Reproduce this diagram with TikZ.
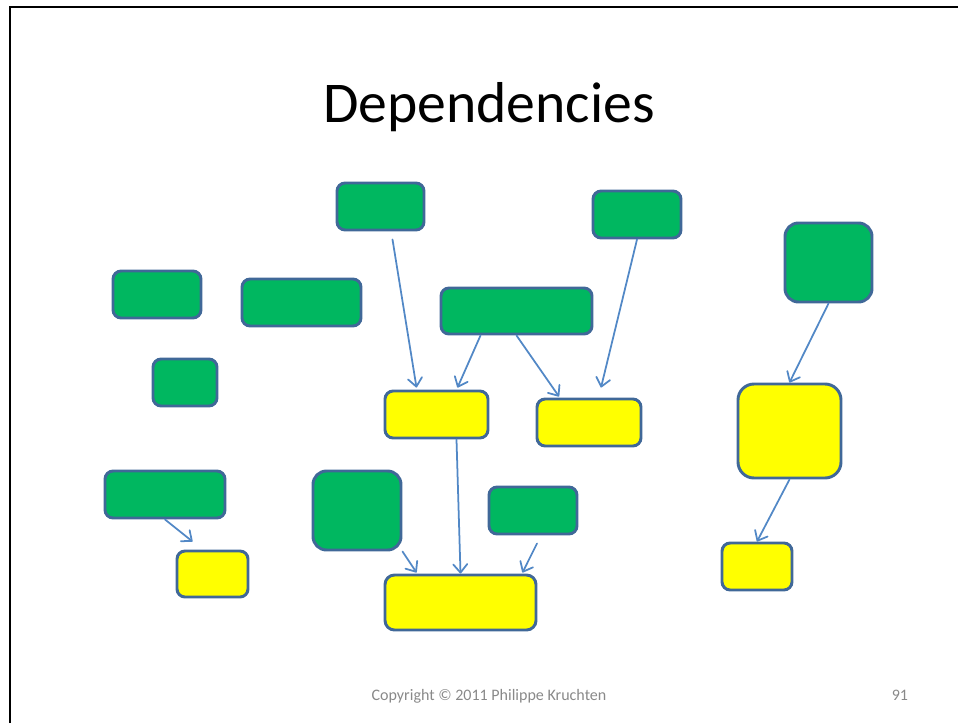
\documentclass[tikz,border=0pt]{standalone}
\usepackage{fontspec}
\setmainfont{Carlito}
\usetikzlibrary{arrows.meta,calc,fit}
\definecolor{modgreen}{RGB}{0,183,96}
\definecolor{modyellow}{RGB}{255,255,0}
\definecolor{modedge}{RGB}{64,104,152}
\definecolor{deparrow}{RGB}{82,136,198}
\definecolor{footgray}{RGB}{137,137,137}
\tikzset{
  module/.style={draw=modedge,line width=2.1pt,inner sep=-0.025cm},
  dep/.style={draw=deparrow,line width=1.25pt,line cap=round,
    -{Straight Barb[length=6pt,width=10pt,round]}}
}
\begin{document}
\begin{tikzpicture}[x=0.025cm,y=-0.025cm]
  \useasboundingbox (0,0) rectangle (958,723);
  % slide frame
  \draw[line width=1.6pt] (10,723) -- (10,7) -- (958,7);
  \node[font=\fontsize{41}{48}\selectfont,anchor=base] (title) at (489,122) {Dependencies};
  % modules, given by their corners
  \foreach \n/\xa/\ya/\xb/\yb in {g1/336/182/425/231,g2/592/190/682/239,
      g3/784/222/873/303,g4/112/270/202/319,g5/241/278/362/327,
      g6/440/287/593/335,g7/152/358/218/407,g8/104/470/226/519,
      g9/312/470/402/551,g10/488/486/578/535}{
    \pgfmathsetmacro\rad{0.025*0.1667*min(\xb-\xa,\yb-\ya)}
    \node[module,fill=modgreen,rounded corners=\rad cm,fit={(\xa,\ya) (\xb,\yb)}] (\n) {};
  }
  \foreach \n/\xa/\ya/\xb/\yb in {y1/384/390/489/439,y2/536/398/642/447,
      y3/737/383/842/479,y4/176/550/249/598,y5/384/574/537/631,
      y6/721/542/793/591}{
    \pgfmathsetmacro\rad{0.025*0.1667*min(\xb-\xa,\yb-\ya)}
    \node[module,fill=modyellow,rounded corners=\rad cm,fit={(\xa,\ya) (\xb,\yb)}] (\n) {};
  }
  % dependencies
  \draw[dep] ($(g1.south)+(12,8)$) -- ($(y1.north)+(-20,-2)$);
  \draw[dep] ($(g6.south)+(-36,0)$) -- ($(y1.north)+(21,-2)$);
  \draw[dep] (g6.south) -- ($(y2.north)+(-30,-1)$);
  \draw[dep] (g2.south) -- ($(y2.north)+(12,-10)$);
  \draw[dep] (g3.south) -- (y3.north);
  \draw[dep] (y3.south) -- (y6.north);
  \draw[dep] (g8.south) -- ($(y4.north)+(-20,-8)$);
  \draw[dep] ($(y1.south)+(20,0)$) -- (y5.north);
  \draw[dep] (g9.south east) -- ($(y5.north)+(-44,-1)$);
  \draw[dep] ($(g10.south)+(4,8)$) -- ($(y5.north)+(62,-1)$);
  % footer
  \node[font=\fontsize{11.4}{14}\selectfont,text=footgray,anchor=base] (copy) at (489,700)
    {Copyright © 2011 Philippe Kruchten};
  \node[font=\fontsize{11.4}{14}\selectfont,text=footgray,anchor=base east] (page) at (913,700) {91};
\end{tikzpicture}
\end{document}
